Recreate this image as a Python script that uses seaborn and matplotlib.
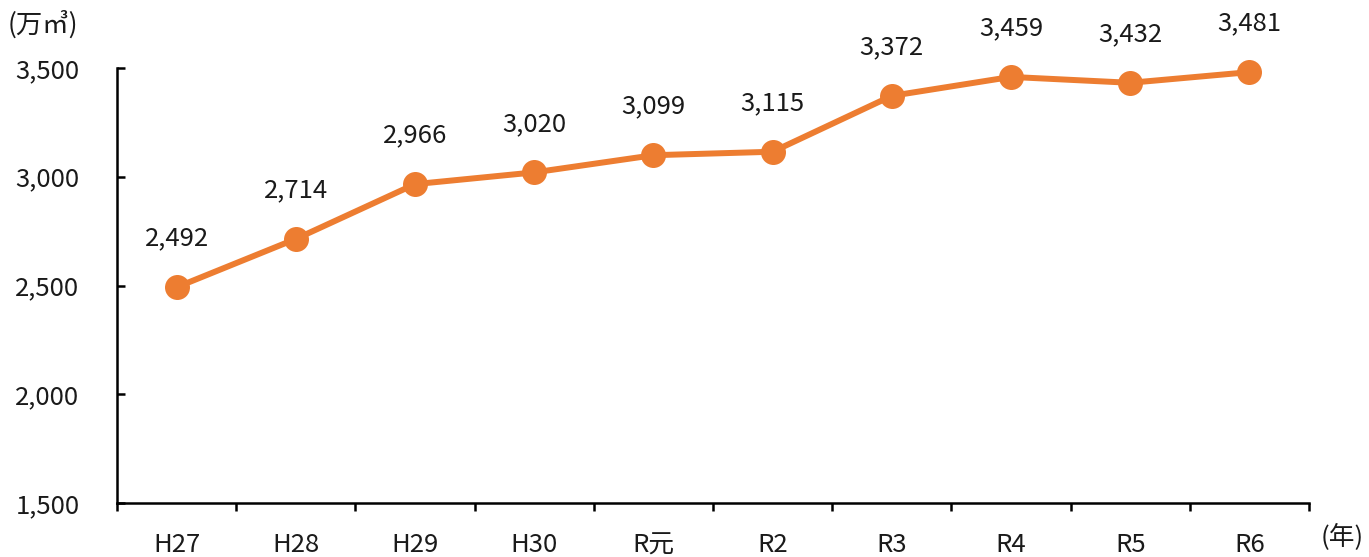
import numpy as np
import pandas as pd
import matplotlib
matplotlib.use('Agg')
import matplotlib.pyplot as plt
import seaborn as sns

years = ['H27', 'H28', 'H29', 'H30', 'R元', 'R2', 'R3', 'R4', 'R5', 'R6']
volume = [2492, 2714, 2966, 3020, 3099, 3115, 3372, 3459, 3432, 3481]
y_ticks = [1500, 2000, 2500, 3000, 3500]

df = pd.DataFrame({'year': years, 'volume': volume, 'pos': np.arange(len(years))})

sns.set_style('white')
plt.rcParams['font.family'] = ['Noto Sans CJK JP', 'DejaVu Sans']

fig = plt.figure(figsize=(13.69, 5.57), dpi=100)
ax = fig.add_axes([117 / 1369, 54 / 557, 1192 / 1369, 435 / 557])

orange = '#ED7D31'
sns.lineplot(data=df, x='pos', y='volume', ax=ax, color=orange, linewidth=4.3,
             marker='o', markersize=18, markeredgewidth=0, zorder=3, clip_on=False)

for x, v in zip(df['pos'], df['volume']):
    ax.annotate(f'{v:,}', (x, v), xytext=(0, 35), textcoords='offset points',
                ha='center', va='center', fontsize=18.5, color='#1a1a1a')

ax.set_xlim(-0.5, len(years) - 0.5)
ax.set_ylim(1500, 3500)
ax.set_yticks(y_ticks)
ax.set_yticklabels([f'{t:,}' for t in y_ticks])
ax.set_xticks(df['pos'])
ax.set_xticklabels(years)
ax.set_xticks(np.arange(-0.5, len(years)), minor=True)

ax.tick_params(axis='x', which='major', length=0, pad=21, labelsize=18.5, labelcolor='#1a1a1a')
ax.tick_params(axis='x', which='minor', length=6, width=1.8, direction='out', color='black', bottom=True)
ax.tick_params(axis='y', which='major', length=6, width=1.8, direction='in', color='black',
               pad=27, labelsize=18.5, labelcolor='#1a1a1a', left=True)

for side in ['top', 'right']:
    ax.spines[side].set_visible(False)
for side in ['left', 'bottom']:
    ax.spines[side].set_color('black')
    ax.spines[side].set_linewidth(1.8)

ax.set_xlabel('')
ax.set_ylabel('')
ax.set_facecolor('white')
ax.grid(False)

fig.text(8 / 1369, 1 - 25 / 557, '(万㎥)', fontsize=19, va='center', ha='left', color='#1a1a1a')
fig.text(1364 / 1369, 1 - 537 / 557, '(年)', fontsize=18.5, va='center', ha='right', color='#1a1a1a')

fig.savefig('out.png', dpi=100, facecolor='white')
